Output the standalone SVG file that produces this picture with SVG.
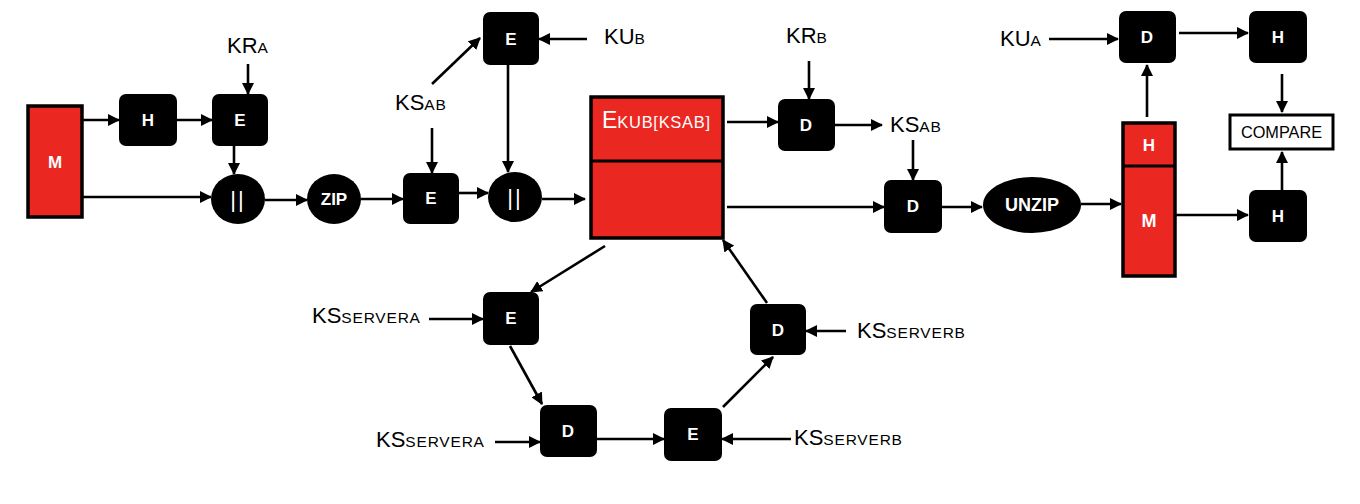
<svg xmlns="http://www.w3.org/2000/svg" width="1360" height="504" viewBox="0 0 1360 504">
<style>
.bx{fill:#000}
.red{fill:#EA2721;stroke:#000;stroke-width:3.5}
.t{font-family:"Liberation Sans",Arial,sans-serif;font-weight:bold;font-size:17px;fill:#fff;text-anchor:middle}
.lb{font-family:"Liberation Sans",Arial,sans-serif;font-size:22px;fill:#000}
.sm{font-size:15.5px;letter-spacing:0.8px}
.cn line{stroke:#000;stroke-width:2.6;marker-end:url(#ah)}
</style>
<defs>
<marker id="ah" markerUnits="userSpaceOnUse" markerWidth="12" markerHeight="12" refX="11" refY="6" orient="auto">
<path d="M0,0 L12,6 L0,12 z" fill="#000"/>
</marker>
</defs>
<rect width="1360" height="504" fill="#fff"/>
<g class="cn" id="connectors">
<line x1="82" y1="120" x2="119" y2="120"/>
<line x1="177" y1="120" x2="212" y2="120"/>
<line x1="248" y1="64" x2="248" y2="94"/>
<line x1="234" y1="146" x2="234" y2="174"/>
<line x1="82" y1="197" x2="211" y2="197"/>
<line x1="265" y1="200" x2="307" y2="200"/>
<line x1="361" y1="199" x2="403" y2="199"/>
<line x1="432" y1="128" x2="432" y2="173"/>
<line x1="432" y1="84" x2="480" y2="38"/>
<line x1="587" y1="39" x2="539" y2="39"/>
<line x1="508" y1="65" x2="508" y2="172"/>
<line x1="459" y1="193" x2="488" y2="193"/>
<line x1="542" y1="199" x2="585" y2="199"/>
<line x1="727" y1="122" x2="778" y2="122"/>
<line x1="809" y1="61" x2="809" y2="99"/>
<line x1="835" y1="125" x2="882" y2="125"/>
<line x1="913" y1="140" x2="913" y2="180"/>
<line x1="727" y1="207" x2="884" y2="207"/>
<line x1="942" y1="207" x2="982" y2="207"/>
<line x1="1081" y1="204" x2="1121" y2="204"/>
<line x1="1147" y1="117" x2="1147" y2="65"/>
<line x1="1049" y1="39" x2="1118" y2="39"/>
<line x1="1179" y1="33" x2="1248" y2="33"/>
<line x1="1282" y1="74" x2="1282" y2="112"/>
<line x1="1175" y1="215" x2="1248" y2="215"/>
<line x1="1282" y1="190" x2="1282" y2="152"/>
<line x1="605" y1="246" x2="531" y2="292"/>
<line x1="429" y1="319" x2="483" y2="319"/>
<line x1="510" y1="346" x2="542" y2="404"/>
<line x1="495" y1="442" x2="540" y2="442"/>
<line x1="597" y1="439" x2="664" y2="439"/>
<line x1="791" y1="439" x2="722" y2="439"/>
<line x1="723" y1="407" x2="773" y2="357"/>
<line x1="846" y1="331" x2="806" y2="331"/>
<line x1="767" y1="303" x2="723" y2="240"/>
</g>
<g id="m1"><rect class="red" x="28" y="106" width="54" height="111"/><text class="t" x="55" y="168">M</text></g>
<g id="h1"><rect class="bx" x="119" y="94" width="58" height="52" rx="7"/><text class="t" x="148" y="126">H</text></g>
<g id="e1"><rect class="bx" x="212" y="94" width="56" height="52" rx="7"/><text class="t" x="240" y="126">E</text></g>
<g id="kra"><text class="lb" x="227" y="53">KR<tspan class="sm">A</tspan></text></g>
<g id="cat1"><ellipse class="bx" cx="238" cy="199" rx="27" ry="25"/><text class="t" x="238" y="207" style="font-weight:normal;font-size:22px;letter-spacing:2px">||</text></g>
<g id="zip"><ellipse class="bx" cx="334" cy="199" rx="27" ry="25"/><text class="t" x="334" y="205">ZIP</text></g>
<g id="e2"><rect class="bx" x="403" y="173" width="56" height="51" rx="7"/><text class="t" x="431" y="204">E</text></g>
<g id="ksab1"><text class="lb" x="395" y="110">KS<tspan class="sm">AB</tspan></text></g>
<g id="etop"><rect class="bx" x="483" y="12" width="56" height="53" rx="7"/><text class="t" x="511" y="45">E</text></g>
<g id="kub"><text class="lb" x="604" y="44">KU<tspan class="sm">B</tspan></text></g>
<g id="cat2"><ellipse class="bx" cx="515" cy="197" rx="27" ry="25"/><text class="t" x="515" y="205" style="font-weight:normal;font-size:22px;letter-spacing:2px">||</text></g>
<g id="bigbox"><rect class="red" x="591" y="97" width="132" height="141"/><line x1="591" y1="161" x2="723" y2="161" stroke="#000" stroke-width="3"/><text x="602" y="128" style="font-family:'Liberation Sans',Arial,sans-serif;font-size:23px;fill:#fff">E<tspan style="font-size:16.5px;letter-spacing:0.7px">KUB[KSAB]</tspan></text></g>
<g id="d1"><rect class="bx" x="778" y="99" width="57" height="52" rx="7"/><text class="t" x="806" y="131">D</text></g>
<g id="krb"><text class="lb" x="786" y="43">KR<tspan class="sm">B</tspan></text></g>
<g id="ksab2"><text class="lb" x="890" y="132">KS<tspan class="sm">AB</tspan></text></g>
<g id="d2"><rect class="bx" x="884" y="180" width="58" height="53" rx="7"/><text class="t" x="913" y="212">D</text></g>
<g id="unzip"><ellipse class="bx" cx="1032" cy="205" rx="49" ry="28"/><text class="t" x="1032" y="211" style="font-size:18px">UNZIP</text></g>
<g id="hm"><rect class="red" x="1123" y="123" width="52" height="153" stroke-width="3"/><line x1="1123" y1="166" x2="1175" y2="166" stroke="#000" stroke-width="3"/><text class="t" x="1149" y="151" style="font-size:17px">H</text><text class="t" x="1149" y="227" style="font-size:18px">M</text></g>
<g id="d3"><rect class="bx" x="1119" y="11" width="57" height="52" rx="7"/><text class="t" x="1147" y="43">D</text></g>
<g id="kua"><text class="lb" x="1000" y="46">KU<tspan class="sm">A</tspan></text></g>
<g id="htop"><rect class="bx" x="1249" y="11" width="58" height="52" rx="7"/><text class="t" x="1278" y="43">H</text></g>
<g id="compare"><rect x="1230" y="115" width="103" height="34" fill="#fff" stroke="#000" stroke-width="3"/><text x="1281.5" y="138" text-anchor="middle" style="font-family:'Liberation Sans',Arial,sans-serif;font-size:16.3px;fill:#000">COMPARE</text></g>
<g id="hbot"><rect class="bx" x="1249" y="190" width="58" height="52" rx="7"/><text class="t" x="1278" y="222">H</text></g>
<g id="ebot1"><rect class="bx" x="483" y="292" width="56" height="53" rx="7"/><text class="t" x="511" y="324">E</text></g>
<g id="kssa1"><text class="lb" x="312" y="323">KS<tspan class="sm">SERVERA</tspan></text></g>
<g id="dbot"><rect class="bx" x="540" y="405" width="57" height="52" rx="7"/><text class="t" x="568" y="437">D</text></g>
<g id="kssa2"><text class="lb" x="376" y="447">KS<tspan class="sm">SERVERA</tspan></text></g>
<g id="ebot2"><rect class="bx" x="664" y="408" width="58" height="53" rx="7"/><text class="t" x="693" y="440">E</text></g>
<g id="kssb2"><text class="lb" x="794" y="445">KS<tspan class="sm">SERVERB</tspan></text></g>
<g id="dright"><rect class="bx" x="750" y="304" width="56" height="51" rx="7"/><text class="t" x="778" y="336">D</text></g>
<g id="kssb1"><text class="lb" x="857" y="338">KS<tspan class="sm">SERVERB</tspan></text></g>
</svg>
